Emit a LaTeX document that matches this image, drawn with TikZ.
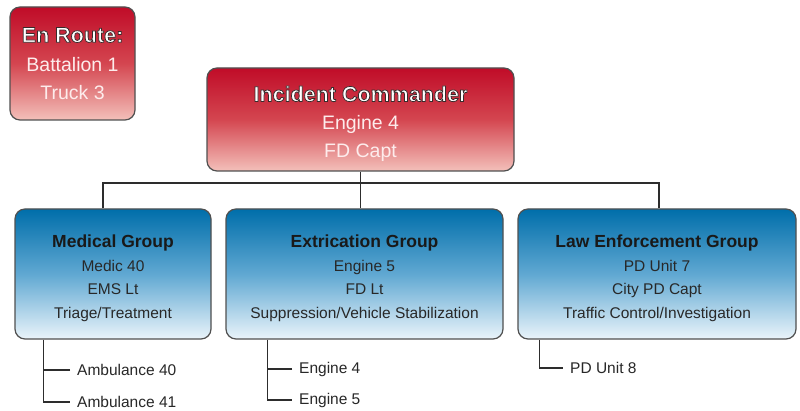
\documentclass[tikz,border=0pt]{standalone}
\usepackage{fontspec}
\setmainfont{Liberation Sans}

\definecolor{redtop}{RGB}{192,12,40}
\definecolor{redmid}{RGB}{212,70,80}
\definecolor{redbot}{RGB}{243,192,186}
\definecolor{bluetop}{RGB}{0,110,170}
\definecolor{bluemid}{RGB}{96,168,210}
\definecolor{bluebot}{RGB}{234,244,250}
\definecolor{boxline}{RGB}{80,80,80}
\definecolor{linegray}{RGB}{45,45,45}
\definecolor{redtext}{RGB}{253,236,236}
\definecolor{bluetext}{RGB}{40,40,40}

% white title letters with a dark rim (pdf text render mode 2)
\newcommand{\redtitle}[1]{{\fontsize{21.5}{24}\selectfont\bfseries\color{white}%
  \special{pdf:literal direct 2 Tr 0.75 w 0.22 0.17 0.17 RG}#1%
  \special{pdf:literal direct 0 Tr}}}
\newcommand{\bluetitle}[1]{{\fontsize{17.5}{20}\selectfont\bfseries\color{black!90}#1}}
\newcommand{\topgap}[1]{\rule{0pt}{#1}}

\tikzset{
  redbox/.style={draw=boxline, line width=1.2pt, rounded corners=10pt,
    top color=redtop, bottom color=redbot, middle color=redmid,
    align=center, text=redtext, inner sep=0pt,
    font=\fontsize{19.5}{28}\selectfont},
  bluebox/.style={draw=boxline, line width=1.2pt, rounded corners=10pt,
    top color=bluetop, bottom color=bluebot, middle color=bluemid,
    align=center, text=bluetext, inner sep=0pt, minimum height=130,
    font=\fontsize{15.5}{23.5}\selectfont},
  subitem/.style={anchor=west, inner xsep=7pt, text=bluetext,
    font=\fontsize{15.5}{18}\selectfont},
  link/.style={draw=linegray, line width=1.8pt}
}

\begin{document}
\begin{tikzpicture}[x=1pt, y=-1pt]
\fill[white] (0,0) rectangle (800,411);
\useasboundingbox (0,0) rectangle (800,411);

% command boxes
\node[redbox, minimum width=125, minimum height=113] (enroute) at (72.5,63.5)
  {\redtitle{En Route:}\\[1pt]Battalion 1\\Truck 3};
\node[redbox, minimum width=307, minimum height=103] (ic) at (360.5,119.5)
  {\topgap{24pt}\redtitle{Incident Commander}\\Engine 4\\FD Capt};

% groups
\node[bluebox, minimum width=196] (med) at (113,274)
  {\topgap{21pt}\bluetitle{Medical Group}\\Medic 40\\EMS Lt\\Triage/Treatment};
\node[bluebox, minimum width=277] (ext) at (364.5,274)
  {\topgap{21pt}\bluetitle{Extrication Group}\\Engine 5\\FD Lt\\Suppression/Vehicle Stabilization};
\node[bluebox, minimum width=278] (law) at (657,274)
  {\topgap{21pt}\bluetitle{Law Enforcement Group}\\PD Unit 7\\City PD Capt\\Traffic Control/Investigation};

% assigned units
\node[subitem] (amb40) at (70,370) {Ambulance 40};
\node[subitem] (amb41) at (70,402) {Ambulance 41};
\node[subitem] (eng4) at (292,369) {Engine 4};
\node[subitem] (eng5) at (292,400) {Engine 5};
\node[subitem] (pd8) at (563,368) {PD Unit 8};

% connectors
\coordinate (bus) at (ic.south |- 0,183);
\draw[link] (ic.south) -- (bus);
\draw[link] ([xshift=-10pt]med.north) |- (bus) -| ([xshift=2pt]law.north);
\draw[link] (bus) -- (bus |- ext.north);

\draw[link] ([xshift=29pt]med.south west) |- (amb41.west);
\draw[link] (amb40.west) -- ++(-26,0);
\draw[link] ([xshift=42pt]ext.south west) |- (eng5.west);
\draw[link] (eng4.west) -- ++(-24,0);
\draw[link] ([xshift=22pt]law.south west) |- (pd8.west);
\end{tikzpicture}
\end{document}
